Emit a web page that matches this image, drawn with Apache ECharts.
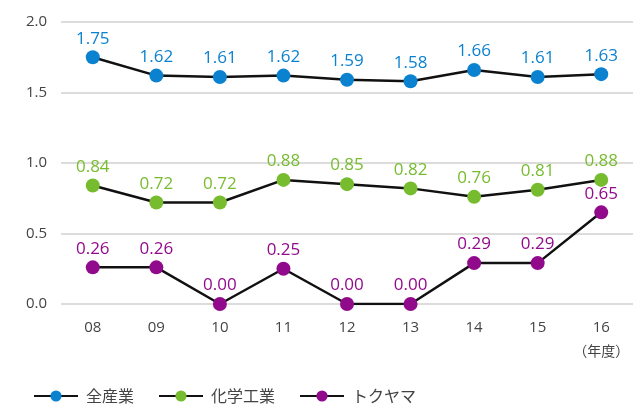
<!DOCTYPE html>
<html>
<head>
<meta charset="utf-8">
<script src="https://cdn.jsdelivr.net/npm/echarts@6/dist/echarts.min.js"></script>
<style>
  html, body { margin: 0; padding: 0; background: #fff; }
  #chart { width: 643px; height: 405px; }
</style>
</head>
<body>
<div id="chart"></div>
<script>
var years = ['08', '09', '10', '11', '12', '13', '14', '15', '16'];
var allIndustry = [1.75, 1.62, 1.61, 1.62, 1.59, 1.58, 1.66, 1.61, 1.63];
var chemical = [0.84, 0.72, 0.72, 0.88, 0.85, 0.82, 0.76, 0.81, 0.88];
var tokuyama = [0.26, 0.26, 0.00, 0.25, 0.00, 0.00, 0.29, 0.29, 0.65];
var yTicks = [0, 0.5, 1.0, 1.5, 2.0];

var font = '"Open Sans", "Noto Sans CJK JP", sans-serif';
var cjk = '"Noto Sans CJK JP", sans-serif';

function makeSeries(name, data, color) {
  return {
    name: name,
    type: 'line',
    data: data,
    symbol: 'circle',
    symbolSize: 14,
    itemStyle: { color: color },
    lineStyle: { color: '#111', width: 2.5 },
    label: {
      show: true,
      position: 'top',
      distance: 3,
      color: color,
      fontSize: 17,
      fontFamily: font,
      formatter: function (p) { return p.value.toFixed(2); }
    },
    emphasis: { disabled: true }
  };
}

var chart = echarts.init(document.getElementById('chart'));
chart.setOption({
  animation: false,
  grid: { left: 61, top: 22, width: 572, height: 282 },
  legend: {
    left: 28,
    top: 383,
    itemWidth: 44,
    itemHeight: 14,
    itemGap: 24,
    textStyle: { color: '#444', fontSize: 16, fontFamily: cjk, padding: [0, 0, 0, 3] },
    data: ['全産業', '化学工業', 'トクヤマ']
  },
  xAxis: {
    type: 'category',
    data: years,
    boundaryGap: true,
    axisLine: { show: false },
    axisTick: { show: false },
    axisLabel: {
      interval: 0,
      margin: 15,
      color: '#444',
      fontSize: 15,
      fontFamily: font,
      lineHeight: 18,
      formatter: function (v, i) {
        return i === years.length - 1 ? v + '\n{u|（年度）}' : v;
      },
      rich: {
        u: { fontSize: 14, color: '#444', fontFamily: cjk, lineHeight: 28 }
      }
    }
  },
  yAxis: {
    type: 'value',
    min: yTicks[0],
    max: yTicks[yTicks.length - 1],
    interval: 0.5,
    axisLine: { show: false },
    axisTick: { show: false },
    axisLabel: {
      margin: 14,
      color: '#444',
      fontSize: 15,
      fontFamily: font,
      formatter: function (v) { return v.toFixed(1); }
    },
    splitLine: { lineStyle: { color: '#dcdcdc', width: 2 } }
  },
  series: [
    makeSeries('全産業', allIndustry, '#0b82d0'),
    makeSeries('化学工業', chemical, '#77bc2f'),
    makeSeries('トクヤマ', tokuyama, '#920a8c')
  ]
});
</script>
</body>
</html>
